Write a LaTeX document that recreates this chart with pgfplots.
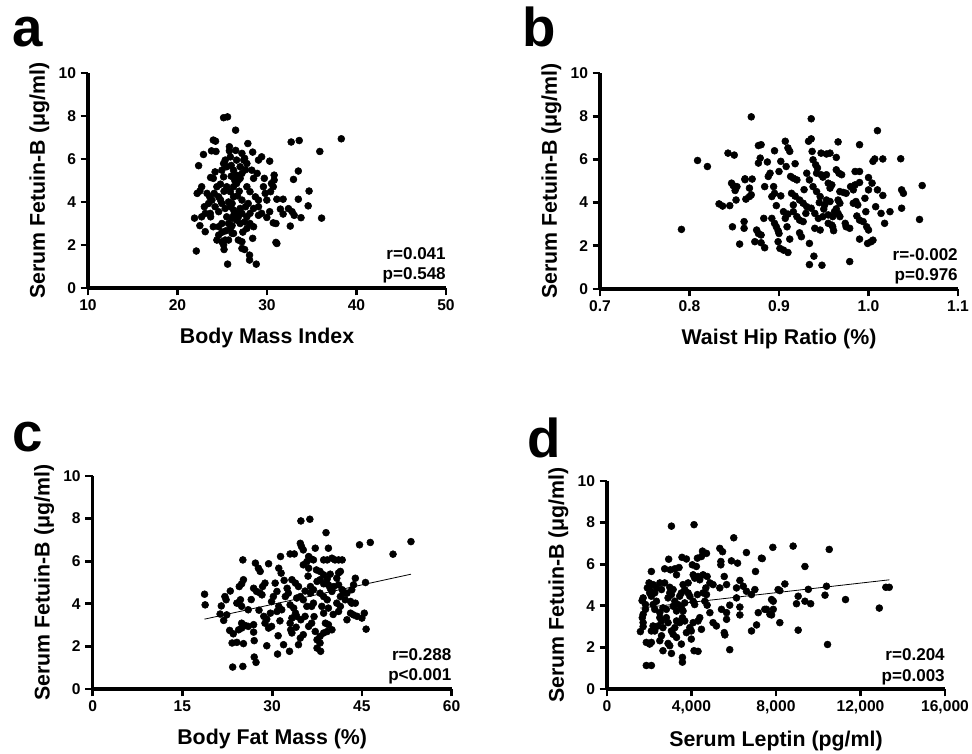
\documentclass[border=0pt]{standalone}
\usepackage{pgfplots}
\pgfplotsset{compat=1.18}
\usepackage{fontspec}
\setmainfont{Liberation Sans}

\pgfplotsset{
  panel/.style={
    scale only axis,
    axis lines=left,
    axis line style={-, line width=2.4pt},
    tick align=outside,
    major tick length=5.5pt,
    tick style={line width=2pt, black},
    minor tick num=0,
    enlargelimits=false,
    clip=false,
    ymin=0, ymax=10, ytick={0,2,4,6,8,10},
    /pgf/number format/assume math mode=true,
    ticklabel style={font=\bfseries\fontsize{11.7}{13}\selectfont},
    label style={font=\bfseries\fontsize{16}{18}\selectfont},
    xlabel style={yshift=-6pt},
    ylabel={Serum Fetuin-B (μg/ml)},
  },
  dots/.style={only marks, mark=*, mark size=2.6pt, black},
  regline/.style={black, line width=0.6pt, no marks},
}
\tikzset{
  stat/.style={font=\bfseries\fontsize{12.8}{15.5}\selectfont, align=right, anchor=south east, inner sep=0pt},
  letter/.style={anchor=base west, inner sep=0pt, font=\bfseries\fontsize{41}{44}\selectfont},
}

\begin{document}
\begin{tikzpicture}
\path[use as bounding box] (0,0) rectangle (729pt,565.5pt);

% a
\begin{axis}[panel, at={(66pt,349.5pt)}, anchor=south west,
  width=268.5pt, height=161.25pt,
  xmin=10, xmax=50, xtick={10,20,30,40,50},
  xlabel={Body Mass Index}]
\addplot[dots] coordinates {(25.15,7.92)(25.59,7.96)(26.49,7.34)(24.25,6.83)(24.0,6.88)(27.86,6.72)(32.7,6.79)(33.6,6.86)(38.3,6.94)(35.9,6.35)(22.9,6.21)(23.8,6.38)(24.3,6.35)(25.8,6.57)(25.8,6.38)(22.36,5.69)(28.4,6.32)(29.4,6.1)(29.05,5.95)(30.3,5.9)(33.5,5.44)(32.96,5.05)(30.8,5.25)(30.8,5.02)(29.7,5.1)(34.7,4.51)(34.6,3.82)(33.5,4.13)(36.1,3.25)(33.8,3.27)(32.6,2.88)(31.0,2.12)(31.1,2.07)(30.7,3.03)(31.0,3.0)(22.1,1.72)(25.6,1.11)(28.8,1.11)(28.05,1.53)(28.05,1.3)(27.2,1.84)(27.5,1.79)(25.2,1.79)(28.4,2.31)(28.5,2.85)(21.9,3.25)(22.5,2.9)(23.1,2.62)(29.05,3.38)(29.98,3.28)(31.5,3.67)(31.8,3.44)(31.1,4.13)(31.8,4.13)(32.4,3.69)(32.8,3.55)(33.04,3.38)(30.3,3.55)(29.98,4.09)(30.5,4.86)(30.7,4.71)(30.4,4.48)(22.5,4.51)(22.2,4.4)(22.7,4.71)(23.3,4.4)(23.7,5.14)(24.0,5.1)(24.4,4.71)(24.8,4.83)(23.0,3.78)(23.6,4.24)(23.7,3.31)(23.66,3.47)(24.0,2.85)(24.6,2.46)(24.4,2.23)(24.96,2.15)(25.15,2.0)(25.33,2.23)(25.4,2.66)(25.9,2.77)(26.26,2.54)(25.5,3.31)(26.1,3.24)(26.6,3.47)(27.0,3.0)(27.5,3.08)(27.75,2.77)(28.1,3.0)(26.8,2.23)(27.2,2.15)(26.7,4.29)(25.33,5.95)(25.5,5.64)(25.15,5.79)(26.26,5.48)(26.6,5.25)(26.8,5.02)(27.2,6.26)(27.5,6.03)(27.75,5.79)(28.3,5.48)(28.9,5.33)(28.5,5.1)(25.5,4.71)(25.9,4.48)(26.26,4.24)(26.1,3.93)(27.2,4.09)(27.6,3.78)(27.9,3.93)(28.5,3.7)(27.75,4.71)(28.1,4.48)(28.7,4.24)(29.05,4.09)(24.96,3.93)(25.33,3.7)(24.6,3.55)(23.85,4.09)(24.2,3.78)(23.47,3.93)(26.26,4.71)(26.6,4.86)(27.0,5.1)(27.2,5.33)(27.0,5.64)(29.6,4.71)(29.8,4.4)(26.6,5.95)(27.4,5.95)(25.9,6.1)(24.96,5.48)(25.15,5.17)(24.1,4.4)(24.6,4.24)(26.8,3.31)(27.2,3.47)(26.6,3.16)(25.9,3.78)(26.26,3.63)(29.05,3.78)(29.4,3.47)(27.75,3.31)(28.1,3.47)(24.96,3.0)(24.6,2.85)(23.1,3.47)(22.7,3.31)(25.7,2.23)(26.1,2.54)(26.0,5.2)(26.4,5.0)(26.9,4.5)(25.7,4.0)(26.3,3.4)(27.0,3.7)(25.2,4.5)(24.8,4.1)(26.1,2.9)(25.0,2.6)(27.3,2.6)(26.5,6.4)(27.6,5.5)(26.0,5.7)(24.2,5.4)(25.7,3.0)};
\node[stat] at (rel axis cs:1,0.02) {r=0.041\\p=0.548};
\end{axis}

% b
\begin{axis}[panel, at={(450pt,348.75pt)}, anchor=south west,
  width=268.5pt, height=162pt,
  xmin=0.7, xmax=1.1, xtick={0.7,0.8,0.9,1.0,1.1},
  x tick label style={/pgf/number format/.cd, fixed, fixed zerofill, precision=1},
  xlabel={Waist Hip Ratio (\%)}]
\addplot[dots] coordinates {(0.791,2.76)(0.809,5.95)(0.820,5.67)(0.843,6.29)(0.850,6.2)(0.833,3.94)(0.837,3.84)(0.845,3.86)(0.847,4.9)(0.849,4.78)(0.851,4.56)(0.853,4.74)(0.852,4.12)(0.848,2.88)(0.856,2.08)(0.861,3.12)(0.861,2.81)(0.862,5.1)(0.863,4.16)(0.867,4.28)(0.869,4.36)(0.867,4.67)(0.870,5.09)(0.869,7.97)(0.877,6.64)(0.880,6.68)(0.879,6.06)(0.877,5.83)(0.875,2.73)(0.877,2.57)(0.880,2.5)(0.873,2.19)(0.880,2.14)(0.884,1.91)(0.883,3.27)(0.884,4.74)(0.888,5.21)(0.89,5.36)(0.894,4.74)(0.895,4.43)(0.892,4.28)(0.895,6.4)(0.887,5.88)(0.892,3.27)(0.895,3.04)(0.897,2.88)(0.899,2.7)(0.9,2.57)(0.899,2.19)(0.901,1.88)(0.905,1.8)(0.91,1.69)(0.902,5.91)(0.9,5.44)(0.902,4.31)(0.897,3.86)(0.907,6.84)(0.91,6.53)(0.912,6.37)(0.908,5.67)(0.918,5.8)(0.905,3.58)(0.91,3.47)(0.907,3.27)(0.909,2.88)(0.912,2.31)(0.913,5.21)(0.916,5.13)(0.92,5.05)(0.914,4.43)(0.916,3.89)(0.916,3.58)(0.92,3.35)(0.923,3.19)(0.923,2.6)(0.925,2.42)(0.927,3.12)(0.933,6.84)(0.936,6.95)(0.936,7.88)(0.937,6.37)(0.938,5.98)(0.941,5.75)(0.943,5.6)(0.942,5.36)(0.931,5.36)(0.934,5.05)(0.923,4.12)(0.927,3.97)(0.931,3.81)(0.938,4.74)(0.942,4.51)(0.946,4.28)(0.936,3.74)(0.94,3.5)(0.944,3.27)(0.934,2.11)(0.939,1.52)(0.934,1.13)(0.948,1.1)(0.94,2.81)(0.946,2.73)(0.949,3.35)(0.947,5.29)(0.949,5.18)(0.953,5.29)(0.947,6.29)(0.953,6.25)(0.957,6.29)(0.955,4.9)(0.959,4.82)(0.957,4.67)(0.953,4.12)(0.957,4.05)(0.951,3.89)(0.955,3.43)(0.96,3.35)(0.962,3.58)(0.964,3.71)(0.955,3.04)(0.96,2.88)(0.959,2.96)(0.961,2.7)(0.964,6.09)(0.966,6.81)(0.964,5.52)(0.967,5.36)(0.97,5.29)(0.968,4.51)(0.972,4.47)(0.975,4.43)(0.966,4.12)(0.968,3.97)(0.966,3.5)(0.968,3.35)(0.974,3.04)(0.975,2.88)(0.979,2.81)(0.979,1.27)(0.98,4.74)(0.983,4.59)(0.985,4.82)(0.983,3.97)(0.986,4.05)(0.988,3.89)(0.985,5.44)(0.99,5.44)(0.99,6.68)(0.987,3.38)(0.99,3.19)(0.994,3.12)(0.99,2.31)(0.99,4.93)(0.996,4.2)(0.997,3.58)(1.0,5.16)(1.0,4.59)(0.998,2.88)(1.0,2.73)(0.999,2.11)(1.003,2.19)(1.005,2.26)(1.004,4.9)(1.005,5.91)(1.007,6.02)(1.01,7.33)(1.008,3.81)(1.01,4.59)(1.014,3.5)(1.016,6.02)(1.016,4.33)(1.018,3.04)(1.024,3.58)(1.036,6.03)(1.037,4.59)(1.039,4.43)(1.037,3.74)(1.057,3.22)(1.06,4.79)(0.862,5.06)(0.928,4.6)(0.945,4.0)(0.918,4.3)(0.93,3.5)(0.95,3.7)};
\node[stat] at (rel axis cs:1,0.02) {r=-0.002\\p=0.976};
\end{axis}

% c
\begin{axis}[panel, at={(69.5pt,48.75pt)}, anchor=south west,
  width=269.25pt, height=159.75pt,
  xmin=0, xmax=60, xtick={0,15,30,45,60},
  xlabel={Body Fat Mass (\%)}]
\addplot[dots] coordinates {(18.7,4.45)(18.8,3.95)(22.1,4.34)(22.3,4.19)(21.3,3.52)(21.9,3.22)(22.4,3.48)(22.9,2.75)(23.5,2.59)(23.3,2.16)(24.1,2.19)(25.2,2.13)(23.4,1.03)(25.1,1.06)(25.1,6.06)(24.5,4.81)(24.9,4.94)(25.2,5.13)(24.1,4.03)(24.7,4.19)(24.9,3.88)(26.0,3.72)(24.9,3.09)(25.5,2.98)(26.0,2.94)(26.9,3.02)(24.4,2.78)(24.9,2.86)(26.9,2.67)(27.0,2.27)(27.0,1.5)(27.3,1.25)(27.2,5.91)(27.7,5.67)(28.0,5.52)(26.9,4.73)(27.4,4.58)(28.0,4.5)(28.3,4.42)(28.4,4.81)(28.8,4.97)(29.4,5.88)(28.6,3.41)(29.1,3.28)(28.8,3.09)(29.7,3.56)(29.9,2.94)(29.4,2.86)(29.1,2.03)(30.9,1.64)(31.9,2.08)(32.9,1.77)(30.5,4.97)(30.8,4.58)(30.2,4.34)(31.1,3.88)(31.6,3.72)(30.8,3.64)(31.3,3.2)(31.1,5.67)(31.5,5.44)(31.4,6.22)(32.5,4.73)(32.7,4.5)(32.2,4.34)(33.0,6.34)(33.7,6.34)(33.3,5.13)(33.0,3.95)(33.6,3.8)(33.9,3.56)(33.3,3.33)(33.0,3.09)(33.1,2.78)(33.3,2.63)(34.4,2.08)(34.7,2.39)(35.2,2.55)(34.1,4.27)(34.7,4.34)(35.2,4.19)(34.1,3.41)(34.8,3.25)(35.5,3.41)(33.9,4.97)(34.4,4.81)(34.8,7.89)(36.3,7.97)(34.7,6.84)(34.9,6.69)(35.2,6.53)(35.2,5.83)(35.8,5.98)(36.1,5.67)(36.1,6.22)(36.5,6.11)(36.9,6.06)(37.2,6.61)(36.4,4.81)(36.9,4.66)(36.4,4.5)(35.8,3.88)(36.6,3.88)(36.9,4.03)(36.1,2.94)(36.6,3.09)(37.2,2.7)(37.5,2.31)(38.0,2.16)(37.5,1.92)(38.1,1.77)(38.6,2.63)(38.0,2.47)(39.2,2.7)(37.4,5.59)(38.0,5.52)(38.6,5.36)(39.0,7.34)(38.6,6.06)(39.2,6.06)(39.4,6.61)(37.5,5.05)(38.0,5.13)(38.6,4.94)(39.2,5.17)(39.7,5.39)(39.4,4.89)(39.7,4.73)(39.99,4.58)(40.3,4.81)(38.0,4.5)(38.6,4.34)(39.2,4.19)(38.3,3.88)(38.6,3.56)(39.4,3.8)(38.9,3.09)(39.4,3.02)(39.99,2.78)(39.99,6.14)(40.5,6.06)(41.1,6.06)(41.7,6.06)(41.1,5.45)(40.8,5.2)(41.4,5.52)(40.8,4.03)(41.4,3.88)(41.1,3.64)(41.4,4.34)(41.9,4.5)(42.2,4.19)(41.1,4.89)(41.7,4.66)(42.5,4.5)(42.5,3.25)(43.1,3.56)(43.6,3.48)(43.1,4.11)(43.3,4.03)(43.9,4.03)(43.3,4.66)(43.6,4.89)(43.9,5.2)(44.2,3.41)(45.0,3.33)(45.4,3.56)(45.6,5.0)(45.7,2.81)(44.6,6.77)(46.4,6.88)(50.2,6.33)(53.2,6.92)(21.5,3.9)(23.0,4.6)(26.5,4.2)(29.9,4.1)(32.0,5.1)(35.5,4.6)(37.0,3.4)(40.2,3.5)(34.0,2.9)(31.0,2.5)(27.8,3.7)(36.0,5.3)};
\addplot[regline] coordinates {(18.7,3.28)(53.2,5.39)};
\node[stat] at (rel axis cs:1,0.02) {r=0.288\\p<0.001};
\end{axis}

% d
\begin{axis}[panel, at={(455.25pt,48.75pt)}, anchor=south west,
  width=253.5pt, height=156pt,
  xmin=0, xmax=16000, xtick={0,4000,8000,12000,16000},
  scaled x ticks=false,
  x tick label style={/pgf/number format/.cd, 1000 sep={,}},
  xlabel={Serum Leptin (pg/ml)}]
\addplot[dots] coordinates {(3050,7.83)(4120,7.9)(6000,7.27)(7850,6.81)(8810,6.87)(10520,6.71)(7350,6.27)(6600,6.56)(5340,6.76)(5470,6.6)(4520,6.63)(4710,6.52)(4280,6.29)(4470,6.37)(3550,6.33)(3760,6.25)(2920,6.24)(2730,5.78)(3000,5.73)(3210,5.78)(3410,5.84)(2100,5.65)(5890,6.16)(6180,6.05)(5390,6.13)(5390,5.97)(9370,5.89)(7030,5.65)(7310,6.29)(4040,5.97)(4230,5.89)(3290,5.49)(4080,5.49)(4310,5.41)(4550,5.49)(4740,5.41)(5550,5.41)(6290,5.22)(1990,5.1)(2180,5.02)(2500,5.1)(2730,5.1)(2340,4.86)(2580,4.78)(2970,4.89)(3130,4.78)(3600,5.02)(3840,5.1)(4150,5.33)(4390,5.25)(4680,4.86)(4870,5.1)(5020,5.02)(5340,4.86)(5660,5.02)(6130,4.86)(6450,4.94)(6600,4.7)(6840,4.54)(7000,4.78)(8100,4.78)(8180,4.73)(8420,5.05)(9530,4.79)(10390,4.94)(10320,4.51)(9050,4.46)(9370,4.22)(9640,4.1)(8970,4.1)(7790,4.3)(7870,4.22)(11290,4.3)(12890,3.89)(13200,4.89)(13360,4.89)(10440,2.14)(9050,2.83)(8180,3.19)(7550,3.83)(7710,3.59)(7870,3.83)(7790,3.56)(7160,3.67)(7470,3.83)(7080,3.08)(6840,2.79)(6290,3.94)(6290,3.56)(6130,4.38)(5810,4.03)(5660,3.67)(5660,3.35)(5420,3.83)(5810,1.89)(5550,2.71)(5580,2.6)(5020,3.19)(5180,3.03)(4870,3.67)(4740,4.03)(4630,4.22)(4710,4.54)(4550,4.62)(4280,4.54)(4080,4.22)(4150,4.06)(4390,3.43)(4310,3.27)(4470,2.87)(4080,3.19)(3990,2.79)(3920,2.95)(4120,1.84)(4310,1.81)(3990,2.4)(3570,1.52)(3570,1.29)(3520,2.16)(3760,2.71)(3570,3.43)(3680,3.27)(3440,3.19)(3520,3.9)(3600,3.75)(3680,4.14)(3210,4.22)(3360,4.06)(3290,3.75)(3130,3.98)(2970,4.62)(2890,4.38)(3050,4.54)(3290,3.27)(3210,2.95)(3050,2.79)(3130,2.63)(3290,2.48)(2970,2.08)(3050,1.71)(2650,1.84)(2890,2.19)(2500,2.32)(2580,2.56)(2650,2.95)(2810,3.43)(2890,3.19)(2580,3.27)(2650,3.9)(2810,3.83)(2500,3.67)(2340,4.22)(2180,4.06)(2260,3.83)(2100,4.46)(2020,4.62)(2260,4.62)(2180,3.03)(2100,2.79)(2260,2.79)(1860,2.24)(2020,2.16)(2100,2.24)(1710,4.38)(1660,4.25)(1820,4.06)(1710,3.59)(1670,3.43)(1820,3.83)(1710,3.19)(1710,3.0)(1580,2.76)(1860,1.13)(2100,1.13)(1910,4.86)(2020,4.78)(3840,4.62)(3920,4.46)(3680,4.78)(3440,4.46)(3520,4.62)(2500,3.43)(2420,3.03)};
\addplot[regline] coordinates {(1580,3.89)(13370,5.25)};
\node[stat] at (rel axis cs:1,0.02) {r=0.204\\p=0.003};
\end{axis}

% panel letters
\node[letter] at (9pt,530.5pt) {a};
\node[letter] at (391.5pt,530.5pt) {b};
\node[letter] at (9pt,226.5pt) {c};
\node[letter] at (395.25pt,222pt) {d};
\end{tikzpicture}
\end{document}
